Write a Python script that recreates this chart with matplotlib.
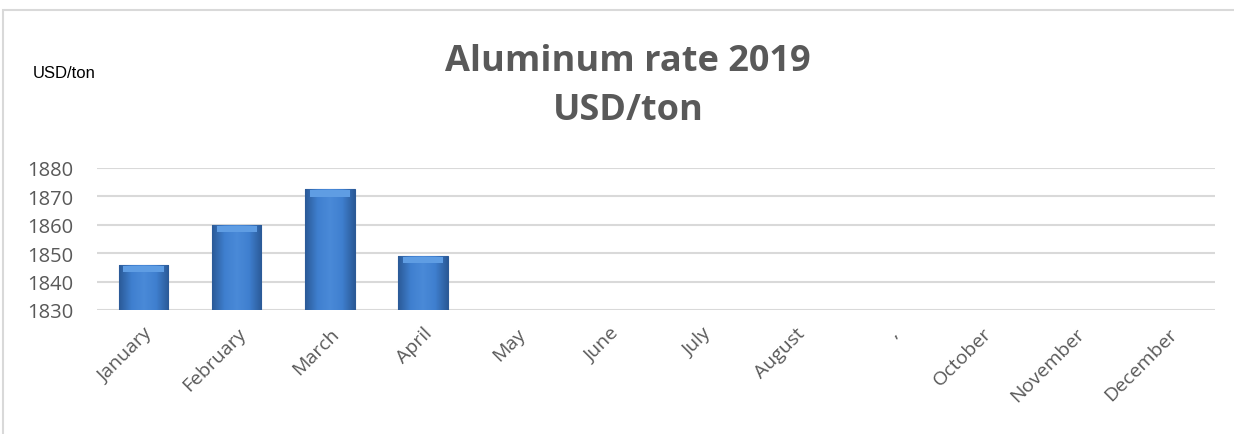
import numpy as np
import matplotlib.pyplot as plt
from matplotlib.patches import Rectangle
from matplotlib.colors import LinearSegmentedColormap

# data
months = ["January", "February", "March", "April", "May", "June",
          "July", "August", ",", "October", "November", "December"]
rates = [1846, 1860, 1872.5, 1849]
y_ticks = [1830, 1840, 1850, 1860, 1870, 1880]

W, H = 1234, 435
fig = plt.figure(figsize=(W / 100, H / 100), dpi=100)

# light frame around the chart area
fig.patches.append(Rectangle((3 / W, -0.1), 1.2, 1.1 - 11 / H,
                             transform=fig.transFigure, fill=False,
                             edgecolor="#d9d9d9", linewidth=1.5))

ax = fig.add_axes([97 / W, 1 - 311 / H, (1215 - 97) / W, (311 - 169) / H])

x = list(range(len(months)))
bars = ax.bar(x[:len(rates)], [r - y_ticks[0] for r in rates],
              bottom=y_ticks[0], width=0.53, color="#3c78c6",
              edgecolor="#2c5a96", linewidth=0.8, zorder=3)

# bevel-ish shading: darker edges left/right, lighter middle
cmap = LinearSegmentedColormap.from_list(
    "bev", ["#2b5a98", "#3f7fcf", "#4a8ad8", "#3f7fcf", "#2b5a98"])
grad = np.linspace(0, 1, 64).reshape(1, -1)
for b in bars:
    x0, y0 = b.get_x(), b.get_y()
    im = ax.imshow(grad, cmap=cmap, aspect="auto", zorder=4,
                   extent=[x0, x0 + b.get_width(), y0, y0 + b.get_height()])
    im.set_clip_path(b)
    # light top cap
    ax.bar(b.get_x() + b.get_width() / 2, 2.2, bottom=y0 + b.get_height() - 2.6,
           width=b.get_width() * 0.82, color="#5f9de3", linewidth=0, zorder=5)

ax.set_xlim(-0.5, len(months) - 0.5)
ax.set_ylim(y_ticks[0], y_ticks[-1])
ax.set_yticks(y_ticks)
ax.yaxis.grid(True, color="#d9d9d9", linewidth=1.5, zorder=0)
ax.set_axisbelow(True)
for s in ax.spines.values():
    s.set_visible(False)
ax.tick_params(axis="both", length=0, colors="#595959")
ax.tick_params(axis="y", pad=17, labelsize=14.5)
ax.tick_params(axis="x", pad=10, labelsize=14)
ax.set_xticks(x)
ax.set_xticklabels(months, rotation=45, ha="right", rotation_mode="anchor")
for lab in ax.get_xticklabels() + ax.get_yticklabels():
    lab.set_fontfamily("Open Sans")
    lab.set_color("#595959")

fig.text(628 / W, 1 - 62 / H, "Aluminum rate 2019", ha="center", va="center",
         fontsize=26, fontweight="bold", color="#595959", family="Open Sans")
fig.text(628 / W, 1 - 111 / H, "USD/ton", ha="center", va="center",
         fontsize=26, fontweight="bold", color="#595959", family="Open Sans")
fig.text(33 / W, 1 - 73 / H, "USD/ton", ha="left", va="center",
         fontsize=12, color="black", family="Liberation Sans")

fig.savefig("out.png", dpi=100, facecolor="white")
